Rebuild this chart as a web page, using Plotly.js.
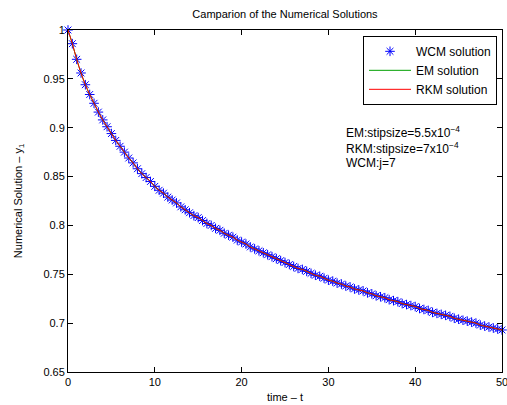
<!DOCTYPE html>
<html>
<head>
<meta charset="utf-8">
<script src="https://cdn.plot.ly/plotly-3.0.1.min.js"></script>
<style>html,body{margin:0;padding:0;background:#fff;}#chart{width:507px;height:405px;}</style>
</head>
<body>
<div id="chart"></div>
<script>
// time points (t)
const timeT = [0,0.5,1,1.5,2,2.5,3,3.5,4,4.5,5,5.5,6,6.5,7,7.5,8,8.5,9,9.5,10,10.5,11,11.5,12,12.5,13,13.5,14,14.5,15,15.5,16,16.5,17,17.5,18,18.5,19,19.5,20,20.5,21,21.5,22,22.5,23,23.5,24,24.5,25,25.5,26,26.5,27,27.5,28,28.5,29,29.5,30,30.5,31,31.5,32,32.5,33,33.5,34,34.5,35,35.5,36,36.5,37,37.5,38,38.5,39,39.5,40,40.5,41,41.5,42,42.5,43,43.5,44,44.5,45,45.5,46,46.5,47,47.5,48,48.5,49,49.5,50];
// WCM solution (stars)
const wcmY = [1.000,0.986,0.970,0.956,0.944,0.934,0.925,0.916,0.908,0.901,0.894,0.887,0.881,0.875,0.869,0.864,0.858,0.853,0.849,0.845,0.840,0.836,0.833,0.829,0.826,0.823,0.819,0.816,0.813,0.810,0.808,0.805,0.802,0.800,0.797,0.795,0.792,0.790,0.788,0.785,0.783,0.781,0.778,0.776,0.774,0.772,0.770,0.768,0.766,0.764,0.762,0.760,0.758,0.756,0.755,0.753,0.751,0.749,0.748,0.746,0.744,0.743,0.741,0.740,0.738,0.737,0.735,0.734,0.733,0.731,0.730,0.728,0.727,0.726,0.724,0.723,0.722,0.720,0.719,0.718,0.717,0.715,0.714,0.713,0.711,0.710,0.709,0.708,0.707,0.705,0.704,0.703,0.702,0.701,0.700,0.698,0.697,0.696,0.695,0.694,0.693];
// EM solution (green line)
const emY = [1.000,0.986,0.970,0.956,0.944,0.934,0.925,0.916,0.908,0.901,0.894,0.887,0.881,0.875,0.869,0.864,0.858,0.853,0.849,0.845,0.840,0.836,0.833,0.829,0.826,0.823,0.819,0.816,0.813,0.810,0.808,0.805,0.802,0.800,0.797,0.795,0.792,0.790,0.788,0.785,0.783,0.781,0.778,0.776,0.774,0.772,0.770,0.768,0.766,0.764,0.762,0.760,0.758,0.756,0.755,0.753,0.751,0.749,0.748,0.746,0.744,0.743,0.741,0.740,0.738,0.737,0.735,0.734,0.733,0.731,0.730,0.728,0.727,0.726,0.724,0.723,0.722,0.720,0.719,0.718,0.717,0.715,0.714,0.713,0.711,0.710,0.709,0.708,0.707,0.705,0.704,0.703,0.702,0.701,0.700,0.698,0.697,0.696,0.695,0.694,0.693];
// RKM solution (red line)
const rkmY = [1.000,0.986,0.970,0.956,0.944,0.934,0.925,0.916,0.908,0.901,0.894,0.887,0.881,0.875,0.869,0.864,0.858,0.853,0.849,0.845,0.840,0.836,0.833,0.829,0.826,0.823,0.819,0.816,0.813,0.810,0.808,0.805,0.802,0.800,0.797,0.795,0.792,0.790,0.788,0.785,0.783,0.781,0.778,0.776,0.774,0.772,0.770,0.768,0.766,0.764,0.762,0.760,0.758,0.756,0.755,0.753,0.751,0.749,0.748,0.746,0.744,0.743,0.741,0.740,0.738,0.737,0.735,0.734,0.733,0.731,0.730,0.728,0.727,0.726,0.724,0.723,0.722,0.720,0.719,0.718,0.717,0.715,0.714,0.713,0.711,0.710,0.709,0.708,0.707,0.705,0.704,0.703,0.702,0.701,0.700,0.698,0.697,0.696,0.695,0.694,0.693];
const xTicks = [0,10,20,30,40,50];
const yTicks = [0.65,0.7,0.75,0.8,0.85,0.9,0.95,1];
const yTickText = ['0.65','0.7','0.75','0.8','0.85','0.9','0.95','1'];

const FONT = 'Liberation Sans, Arial, Helvetica, sans-serif';

const traces = [
  {x: timeT, y: wcmY, type: 'scatter', mode: 'markers', name: 'WCM solution', cliponaxis: false,
   marker: {symbol: 'asterisk-open', size: 8, color: '#0000ff', line: {color: '#0000ff', width: 1}}},
  {x: timeT, y: emY, type: 'scatter', mode: 'lines', name: 'EM solution',
   line: {color: '#00a000', width: 1, shape: 'spline'}},
  {x: timeT, y: rkmY, type: 'scatter', mode: 'lines', name: 'RKM solution',
   line: {color: '#ff0000', width: 1, shape: 'spline'}}
];

const layout = {
  width: 507, height: 405,
  paper_bgcolor: '#ffffff', plot_bgcolor: '#ffffff',
  margin: {l: 68, r: 5, t: 30, b: 33, pad: 0},
  font: {family: FONT, size: 11, color: '#000'},
  title: {text: 'Camparion of the Numerical Solutions', font: {family: FONT, size: 11, color: '#000'},
          x: 0.5, xref: 'paper', xanchor: 'center', y: 1 - 14/405, yref: 'container', yanchor: 'middle'},
  xaxis: {range: [0, 50], tickvals: xTicks, ticktext: xTicks.map(String), ticks: 'inside', ticklen: 5,
          tickcolor: '#000', showline: true, linecolor: '#000', linewidth: 1, mirror: 'allticks',
          showgrid: false, zeroline: false, tickfont: {family: FONT, size: 11}, ticklabeloverflow: 'allow',
          automargin: false,
          title: {text: 'time – t', font: {family: FONT, size: 11}, standoff: 6}},
  yaxis: {range: [0.65, 1], tickvals: yTicks, ticktext: yTickText, ticks: 'inside', ticklen: 5,
          tickcolor: '#000', showline: true, linecolor: '#000', linewidth: 1, mirror: 'allticks',
          showgrid: false, zeroline: false, tickfont: {family: FONT, size: 11}, automargin: false,
          title: {text: 'Numerical Solution – y<sub>1</sub>', font: {family: FONT, size: 11}, standoff: 18}},
  showlegend: true,
  legend: {x: 0.9885, xanchor: 'right', y: 0.983, yanchor: 'top', bgcolor: '#fff', itemwidth: 42,
           bordercolor: '#000', borderwidth: 1, font: {family: FONT, size: 12}, tracegroupgap: 0},
  annotations: [
    {text: 'EM:stipsize=5.5x10<sup>−4</sup>', xref: 'paper', yref: 'paper', x: (344-68)/434, y: 1-(131.7-30)/342.3,
     xanchor: 'left', yanchor: 'middle', showarrow: false, font: {family: FONT, size: 12}},
    {text: 'RKM:stipsize=7x10<sup>−4</sup>', xref: 'paper', yref: 'paper', x: (344-68)/434, y: 1-(148-30)/342.3,
     xanchor: 'left', yanchor: 'middle', showarrow: false, font: {family: FONT, size: 12}},
    {text: 'WCM:j=7', xref: 'paper', yref: 'paper', x: (344-68)/434, y: 1-(163.5-30)/342.3,
     xanchor: 'left', yanchor: 'middle', showarrow: false, font: {family: FONT, size: 12}}
  ]
};

Plotly.newPlot('chart', traces, layout, {staticPlot: true, displayModeBar: false});
</script>
</body>
</html>
